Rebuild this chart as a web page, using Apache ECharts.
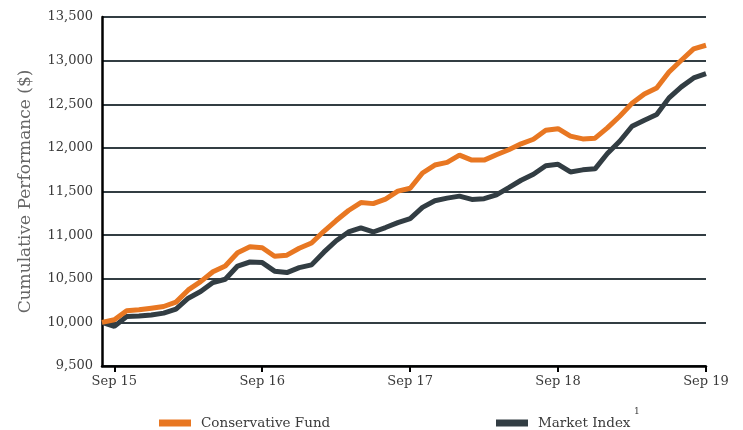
<!DOCTYPE html>
<html>
<head>
<meta charset="utf-8">
<script src="https://cdn.jsdelivr.net/npm/echarts@6/dist/echarts.min.js"></script>
<style>html,body{margin:0;padding:0;background:#fff}#c{width:743px;height:430px}</style>
</head>
<body>
<div id="c"></div>
<script>
const months = [
  'Aug 15','Sep 15','Oct 15','Nov 15','Dec 15',
  'Jan 16','Feb 16','Mar 16','Apr 16','May 16','Jun 16','Jul 16','Aug 16','Sep 16','Oct 16','Nov 16','Dec 16',
  'Jan 17','Feb 17','Mar 17','Apr 17','May 17','Jun 17','Jul 17','Aug 17','Sep 17','Oct 17','Nov 17','Dec 17',
  'Jan 18','Feb 18','Mar 18','Apr 18','May 18','Jun 18','Jul 18','Aug 18','Sep 18','Oct 18','Nov 18','Dec 18',
  'Jan 19','Feb 19','Mar 19','Apr 19','May 19','Jun 19','Jul 19','Aug 19','Sep 19'
];
const tickLabels = ['Sep 15','Sep 16','Sep 17','Sep 18','Sep 19'];
const fundName = 'Conservative Fund';
const indexName = 'Market Index';
const indexFootnote = '1';
const fundValues = [
  10000,10030,10133,10144,10163,10182,10232,10372,10467,10581,10646,10798,10866,10855,10758,10770,10849,
  10909,11044,11167,11282,11373,11361,11413,11504,11537,11712,11803,11834,11917,11860,11860,11921,11978,
  12046,12099,12201,12220,12135,12103,12111,12229,12363,12511,12618,12687,12870,13004,13134,13176
];
const indexValues = [
  10000,9954,10068,10072,10084,10106,10152,10277,10353,10456,10494,10646,10692,10685,10587,10571,10627,
  10659,10805,10936,11036,11083,11036,11087,11143,11190,11318,11394,11424,11447,11409,11417,11462,11545,
  11629,11697,11796,11812,11724,11748,11760,11935,12076,12248,12317,12382,12573,12699,12802,12851
];
const yTitle = 'Cumulative Performance ($)';

const FONT = 'DejaVu Serif';
const ORANGE = '#E87722';
const SLATE = '#323d43';
const showTick = (i) => tickLabels.indexOf(months[i]) >= 0;

const legendText = {color: '#3a3a3a', fontFamily: FONT, fontSize: 13.5, padding: [0, 0, 0, 5]};

const chart = echarts.init(document.getElementById('c'), null, {renderer: 'canvas'});
chart.setOption({
  animation: false,
  backgroundColor: '#fff',
  grid: {left: 102, right: 37, top: 17, bottom: 64, containLabel: false},
  xAxis: {
    type: 'category',
    data: months,
    boundaryGap: false,
    axisLine: {show: true, lineStyle: {color: '#000', width: 2.5}},
    axisTick: {show: true, length: 6, interval: (i) => showTick(i), lineStyle: {color: '#000', width: 2}},
    axisLabel: {interval: (i) => showTick(i), margin: 9, color: '#3a3a3a', fontFamily: FONT, fontSize: 13},
    splitLine: {show: false}
  },
  yAxis: {
    type: 'value',
    min: 9500, max: 13500, interval: 500,
    name: yTitle,
    nameLocation: 'middle',
    nameRotate: 90,
    nameGap: 68,
    nameTextStyle: {color: '#666', fontFamily: FONT, fontSize: 17},
    axisLine: {show: true, lineStyle: {color: '#000', width: 2.5}},
    axisTick: {show: false},
    axisLabel: {margin: 9, color: '#3a3a3a', fontFamily: FONT, fontSize: 13,
      formatter: (v) => v.toLocaleString('en-US')},
    splitLine: {show: true, lineStyle: {color: SLATE, width: 2}}
  },
  legend: [
    {data: [fundName], left: 159, top: 416, padding: 0, itemWidth: 32, itemHeight: 7, icon: 'rect',
     textStyle: legendText},
    {data: [indexName], left: 496, top: 416, padding: 0, itemWidth: 32, itemHeight: 7, icon: 'rect',
     textStyle: legendText}
  ],
  graphic: [
    {type: 'text', left: 634, top: 407,
     style: {text: indexFootnote, fill: '#3a3a3a', font: '9px "DejaVu Serif"'}}
  ],
  series: [
    {name: indexName, type: 'line', data: indexValues, symbol: 'none', smooth: false,
     lineStyle: {color: SLATE, width: 5}, itemStyle: {color: SLATE}, z: 2},
    {name: fundName, type: 'line', data: fundValues, symbol: 'none', smooth: false,
     lineStyle: {color: ORANGE, width: 5}, itemStyle: {color: ORANGE}, z: 3}
  ]
});
</script>
</body>
</html>
